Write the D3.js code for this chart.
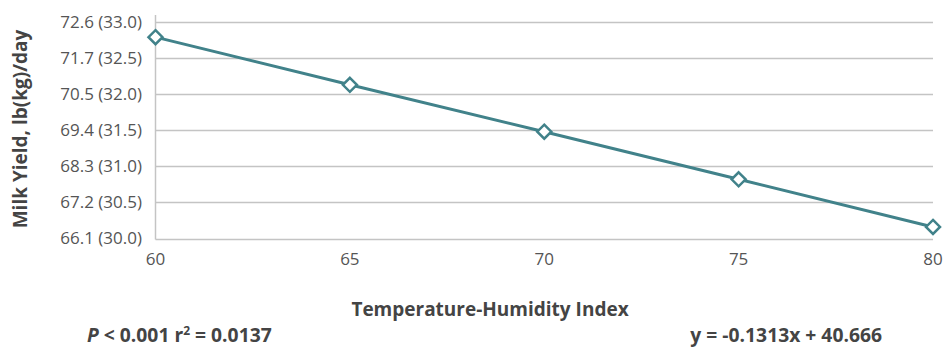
<!DOCTYPE html>
<html><head><meta charset="utf-8">
<script src="https://cdn.jsdelivr.net/npm/d3@7"></script>
<style>
body{margin:0;background:#fff;}
text{font-family:"Open Sans","Noto Sans",sans-serif;}
</style>
</head><body>
<svg id="c" width="945" height="347"></svg>
<script>
const thi = [60, 65, 70, 75, 80];
const yieldKg = [32.79, 32.13, 31.48, 30.82, 30.16];
const yTickKg = [30.0, 30.5, 31.0, 31.5, 32.0, 32.5, 33.0];
const yTickLabels = ["66.1 (30.0)", "67.2 (30.5)", "68.3 (31.0)", "69.4 (31.5)", "70.5 (32.0)", "71.7 (32.5)", "72.6 (33.0)"];
const xTicks = [60, 65, 70, 75, 80];

const svg = d3.select("#c");
const x = d3.scaleLinear().domain([60, 80]).range([155.5, 933]);
const y = d3.scaleLinear().domain([30, 33]).range([238.5, 22]);
const teal = "#41828a", grid = "#c4c4c4", txt = "#555555";

// gridlines
svg.append("g").selectAll("line").data(yTickKg).join("line")
  .attr("x1", x(60)).attr("x2", 933)
  .attr("y1", d => Math.round(y(d)) + 0.5).attr("y2", d => Math.round(y(d)) + 0.5)
  .attr("stroke", grid).attr("stroke-width", 1.5);
// left axis line
svg.append("line").attr("x1", x(60)).attr("x2", x(60)).attr("y1", 15).attr("y2", y(30) + 1)
  .attr("stroke", grid).attr("stroke-width", 1.5);

// y tick labels
svg.append("g").selectAll("text").data(yTickKg).join("text")
  .attr("x", 142).attr("y", d => y(d)).attr("dy", "0.35em")
  .attr("text-anchor", "end").attr("font-size", 17).attr("fill", txt)
  .text((d, i) => yTickLabels[i]);

// x tick labels
svg.append("g").selectAll("text").data(xTicks).join("text")
  .attr("x", d => x(d)).attr("y", 265)
  .attr("text-anchor", "middle").attr("font-size", 17).attr("fill", txt)
  .text(d => d);

// line
svg.append("path").datum(thi.map((t, i) => [t, yieldKg[i]]))
  .attr("d", d3.line().x(d => x(d[0])).y(d => y(d[1])))
  .attr("fill", "none").attr("stroke", teal).attr("stroke-width", 3);

// markers
svg.append("g").selectAll("path").data(thi.map((t, i) => [t, yieldKg[i]])).join("path")
  .attr("transform", d => `translate(${x(d[0])},${y(d[1])})`)
  .attr("d", "M0,-7L7,0L0,7L-7,0Z")
  .attr("fill", "#fff").attr("stroke", teal).attr("stroke-width", 2.5);

// axis titles
svg.append("text").attr("transform", "translate(27,129) rotate(-90)")
  .attr("text-anchor", "middle").attr("font-size", 19).attr("font-weight", "bold").attr("fill", "#444")
  .text("Milk Yield, lb(kg)/day");
svg.append("text").attr("x", 490).attr("y", 316)
  .attr("text-anchor", "middle").attr("font-size", 19).attr("font-weight", "bold").attr("fill", "#444")
  .text("Temperature-Humidity Index");

// stats
const s = svg.append("text").attr("x", 87).attr("y", 342).attr("font-size", 19.3).attr("font-weight", "bold").attr("fill", "#444");
s.append("tspan").attr("font-style", "italic").text("P");
s.append("tspan").text(" < 0.001 r");
s.append("tspan").attr("font-size", 12).attr("dy", -7).text("2");
s.append("tspan").attr("dy", 7).text(" = 0.0137");
svg.append("text").attr("x", 882).attr("y", 342).attr("text-anchor", "end")
  .attr("font-size", 19.3).attr("font-weight", "bold").attr("fill", "#444")
  .text("y = -0.1313x + 40.666");
</script>
</body></html>
